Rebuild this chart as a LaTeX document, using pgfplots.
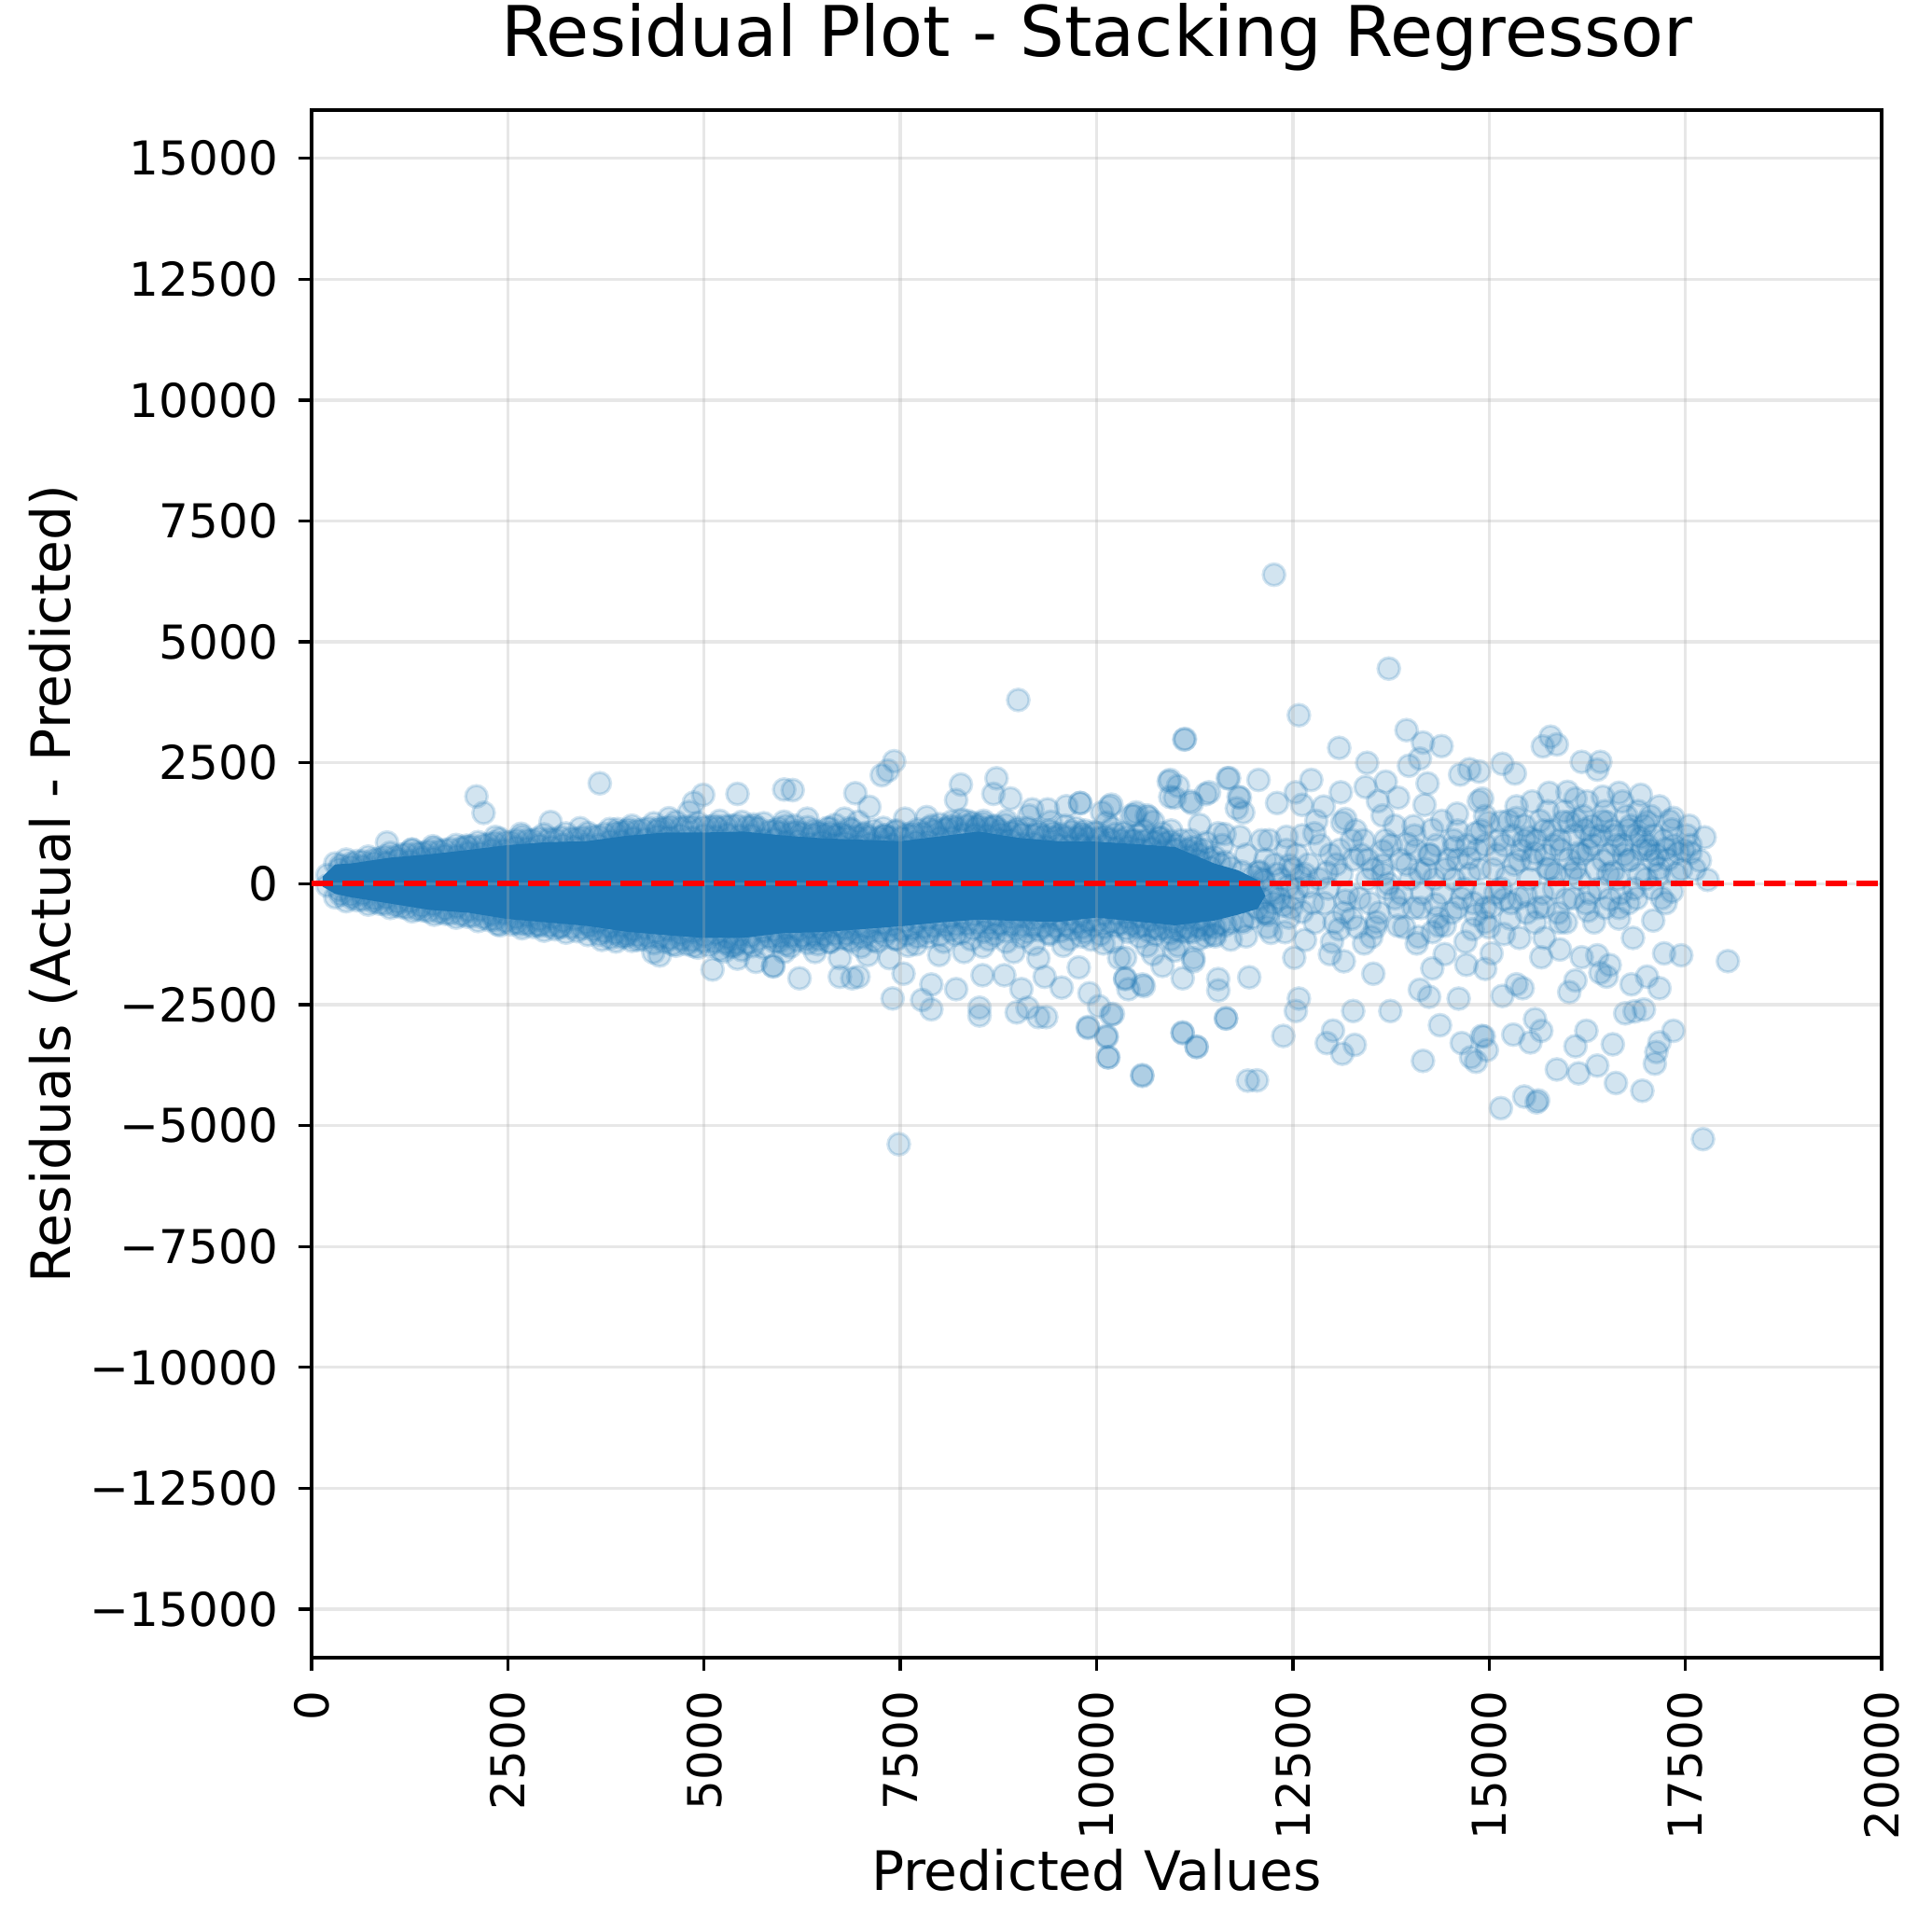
\documentclass[border=0pt]{standalone}
\usepackage{fontspec}
\setmainfont{DejaVu Sans}
\usepackage{pgfplots}
\pgfplotsset{compat=1.18}
\usetikzlibrary{calc}
\definecolor{tabblue}{HTML}{1F77B4}
\definecolor{gridc}{RGB}{176,176,176}
\pgfplotsset{pts/.style={only marks, mark=*, mark size=2.8pt,
  mark options={draw=tabblue, fill=tabblue, fill opacity=0.2, draw opacity=0.2, line width=0.8pt}}}
\begin{document}
\begin{tikzpicture}
\begin{axis}[
  set layers, axis on top,
  scale only axis, width=403.9pt, height=398.2pt,
  xmin=0, xmax=20000, ymin=-16000, ymax=16000,
  scaled ticks=false,
  xtick={0,2500,5000,7500,10000,12500,15000,17500,20000},
  ytick={-15000,-12500,-10000,-7500,-5000,-2500,0,2500,5000,7500,10000,12500,15000},
  xticklabels={0,2500,5000,7500,10000,12500,15000,17500,20000},
  yticklabels={−15000,−12500,−10000,−7500,−5000,−2500,0,2500,5000,7500,10000,12500,15000},
  tick pos=left, tick align=outside, major tick length=3.5pt,
  every tick/.style={black, line width=0.8pt},
  axis line style={line width=0.8pt},
  grid=major, grid style={gridc, line width=0.8pt, draw opacity=0.3},
  tick label style={font=\fontsize{12}{14}\selectfont},
  xticklabel style={rotate=90, anchor=east, inner sep=0pt},
  yticklabel style={anchor=east, inner sep=0pt},
  xticklabel shift=5pt, yticklabel shift=5pt,
  title={Residual Plot - Stacking Regressor},
  title style={font=\fontsize{18}{21}\selectfont, at={(axis description cs:0.5,1)}, anchor=base, yshift=7.7pt},
  xlabel={Predicted Values},
  xlabel style={font=\fontsize{14}{16}\selectfont, at={(axis description cs:0.5,0)}, anchor=base, yshift=-60pt},
  ylabel={Residuals (Actual - Predicted)},
  ylabel style={font=\fontsize{14}{16}\selectfont, at={(axis description cs:-0.1535,0.5)}, anchor=base},
]
% dense core where the markers overlap to full colour
\addplot[draw=none, fill=tabblue, forget plot] coordinates {
(140,150) (300,400) (500,420) (1000,540) (1500,610) (2000,700) (2500,800) (3000,860) (3500,880)
(4000,990) (4500,1060) (5000,1060) (5500,1080) (6000,1000) (6500,940) (7500,880) (8000,980)
(8500,1080) (9000,950) (9500,880) (10000,870) (10500,820) (11000,760) (11500,420) (11800,280) (12050,80) (12150,-250)
(12050,-520) (11800,-640) (11500,-760) (11000,-860) (10500,-780) (10000,-700) (9500,-790) (9000,-770) (8500,-740)
(8000,-800) (7500,-880) (6500,-1000) (6000,-1020) (5500,-1120) (5000,-1120) (4500,-1060) (4000,-990)
(3500,-870) (3000,-800) (2500,-730) (2000,-600) (1500,-540) (1000,-410) (500,-280) (300,-210) (140,-60)};
% fringe of the core, upper
\addplot[pts] table {
x y
200 180
350 300
500 350
650 360
800 430
950 430
1100 490
1250 470
1400 530
1550 520
1700 580
1850 570
2000 640
2150 630
2300 700
2450 690
2600 750
2750 730
2900 790
3050 760
3200 800
3350 760
3500 800
3650 800
3800 880
3950 880
4100 940
4250 920
4400 980
4550 960
4700 1000
4850 950
5000 1000
5150 970
5300 1020
5450 990
5600 1000
5750 910
5900 920
6050 860
6200 890
6350 830
6500 860
6650 810
6800 840
6950 790
7100 820
7250 770
7400 800
7550 770
7700 860
7850 870
8000 950
8150 950
8300 1020
8450 1010
8600 1000
8750 910
8900 900
9050 820
9200 830
9350 770
9500 800
9650 760
9800 800
9950 760
10100 790
10250 730
10400 760
10550 710
10700 730
10850 670
11000 700
11150 560
11300 480
11450 340
};
% intermediate fringe layer, upper
\addplot[pts] table {
x y
370 380
510 420
650 460
790 500
930 560
1070 560
1210 620
1350 630
1490 670
1630 680
1770 720
1910 740
2050 780
2190 800
2330 850
2470 860
2610 900
2750 900
2890 940
3030 930
3170 960
3310 940
3450 960
3590 980
3730 1030
3870 1050
4010 1090
4150 1100
4290 1150
4430 1150
4570 1180
4710 1160
4850 1180
4990 1170
5130 1200
5270 1190
5410 1210
5550 1180
5690 1150
5830 1080
5970 1060
6110 1050
6250 1040
6390 1020
6530 1010
6670 990
6810 990
6950 970
7090 970
7230 950
7370 960
7510 950
7650 1000
7790 1040
7930 1100
8070 1120
8210 1160
8350 1200
8490 1200
8630 1160
8770 1100
8910 1060
9050 1020
9190 1000
9330 980
9470 960
9610 960
9750 950
9890 950
10030 940
10170 920
10310 900
10450 900
10590 880
10730 860
10870 840
11010 800
11150 700
11290 620
11430 520
11570 420
11710 330
11850 250
11990 150
12130 50
};
% second fringe layer, upper
\addplot[pts] table {
x y
300 420
440 500
580 470
720 560
860 520
1000 640
1140 600
1280 700
1420 640
1560 740
1700 700
1840 800
1980 760
2120 860
2260 820
2400 930
2540 860
2680 980
2820 900
2960 1020
3100 920
3240 1040
3380 930
3520 1050
3660 980
3800 1130
3940 1060
4080 1200
4220 1120
4360 1250
4500 1150
4640 1280
4780 1180
4920 1260
5060 1180
5200 1300
5340 1200
5480 1280
5620 1180
5760 1250
5900 1100
6040 1200
6180 1080
6320 1170
6460 1060
6600 1150
6740 1040
6880 1120
7020 1020
7160 1100
7300 1000
7440 1080
7580 1020
7720 1120
7860 1150
8000 1230
8140 1200
8280 1320
8420 1260
8560 1300
8700 1180
8840 1220
8980 1100
9120 1150
9260 1040
9400 1100
9540 1020
9680 1080
9820 1000
9960 1060
10100 980
10240 1030
10380 960
10520 1000
10660 920
10800 960
10940 880
11080 900
11220 760
11360 700
11500 560
11640 450
};
% fringe of the core, lower
\addplot[pts] table {
x y
200 -40
350 -130
500 -230
650 -210
800 -310
950 -290
1100 -380
1250 -370
1400 -460
1550 -430
1700 -520
1850 -480
2000 -550
2150 -540
2300 -630
2450 -610
2600 -700
2750 -660
2900 -740
3050 -700
3200 -770
3350 -730
3500 -810
3650 -790
3800 -890
3950 -870
4100 -950
4250 -920
4400 -990
4550 -950
4700 -1030
4850 -990
5000 -1070
5150 -1030
5300 -1110
5450 -1070
5600 -1080
5750 -980
5900 -960
6050 -930
6200 -960
6350 -900
6500 -930
6650 -870
6800 -920
6950 -850
7100 -890
7250 -820
7400 -850
7550 -770
7700 -800
7850 -720
8000 -740
8150 -680
8300 -700
8450 -640
8600 -680
8750 -650
8900 -700
9050 -660
9200 -720
9350 -680
9500 -740
9650 -640
9800 -640
9950 -560
10100 -620
10250 -620
10400 -700
10550 -660
10700 -750
10850 -710
11000 -800
11150 -720
11300 -730
11450 -640
};
% intermediate fringe layer, lower
\addplot[pts] table {
x y
370 -220
510 -290
650 -330
790 -370
930 -420
1070 -450
1210 -500
1350 -530
1490 -570
1630 -590
1770 -620
1910 -640
2050 -670
2190 -700
2330 -740
2470 -780
2610 -810
2750 -830
2890 -850
3030 -870
3170 -880
3310 -900
3450 -920
3590 -950
3730 -990
3870 -1020
4010 -1050
4150 -1070
4290 -1090
4430 -1110
4570 -1130
4710 -1150
4850 -1170
4990 -1190
5130 -1200
5270 -1220
5410 -1230
5550 -1220
5690 -1150
5830 -1100
5970 -1090
6110 -1080
6250 -1080
6390 -1060
6530 -1060
6670 -1040
6810 -1040
6950 -1020
7090 -1010
7230 -990
7370 -970
7510 -950
7650 -930
7790 -900
7930 -880
8070 -860
8210 -840
8350 -830
8490 -820
8630 -820
8770 -830
8910 -850
9050 -860
9190 -870
9330 -880
9470 -880
9610 -850
9750 -800
9890 -770
10030 -760
10170 -790
10310 -820
10450 -840
10590 -860
10730 -900
10870 -920
11010 -940
11150 -900
11290 -880
11430 -860
11570 -830
11710 -800
11850 -760
11990 -700
12130 -600
};
% second fringe layer, lower
\addplot[pts] table {
x y
300 -280
440 -360
580 -340
720 -430
860 -410
1000 -500
1140 -480
1280 -570
1420 -550
1560 -640
1700 -620
1840 -700
1980 -680
2120 -770
2260 -750
2400 -860
2540 -840
2680 -920
2820 -890
2960 -970
3100 -940
3240 -1010
3380 -980
3520 -1060
3660 -1050
3800 -1120
3940 -1100
4080 -1180
4220 -1150
4360 -1230
4500 -1200
4640 -1280
4780 -1250
4920 -1320
5060 -1280
5200 -1360
5340 -1300
5480 -1370
5620 -1290
5760 -1320
5900 -1200
6040 -1260
6180 -1170
6320 -1230
6460 -1150
6600 -1210
6740 -1130
6880 -1190
7020 -1110
7160 -1170
7300 -1080
7440 -1140
7580 -1050
7720 -1100
7860 -1000
8000 -1060
8140 -960
8280 -1020
8420 -930
8560 -990
8700 -920
8840 -980
8980 -940
9120 -1000
9260 -960
9400 -1020
9540 -980
9680 -940
9820 -900
9960 -860
10100 -900
10240 -870
10380 -930
10520 -900
10660 -980
10800 -950
10940 -1020
11080 -980
11220 -1000
11360 -940
11500 -900
11640 -860
};
% points outside the core, 0 - 12000
\addplot[pts] table {
x y
960 852
1278 710
1544 774
1972 787
2099 1806
2190 1465
2341 968
2667 1032
3044 1277
3421 1148
3670 2077
3897 1129
4040 1129
4400 1100
4552 1355
4810 1484
4869 1677
4988 1839
5165 1161
5425 1858
5630 1226
6020 1948
6128 1936
6314 1346
6670 1218
6789 1346
6927 1872
7105 1590
7263 2244
7342 2340
7421 2532
8211 1731
8271 2051
8686 1859
8725 2180
8903 1763
9002 3800
9180 1538
9376 1538
9615 1603
9792 1667
10069 1474
10188 1635
10504 1474
10662 1378
10919 2115
10939 1795
11037 2019
11117 2981
11215 1667
11433 1891
11670 2180
11809 1795
11868 1474
7559 1346
7836 1378
8152 1282
8468 1154
8785 1026
9140 1410
9417 1282
9733 1154
10445 1410
10721 1282
11314 1218
11630 1026
6018 1282
6571 1154
6966 1282
7283 1154
5950 1150
6150 1200
6400 1100
6600 1050
6850 1150
7050 1050
7300 1000
7450 1100
7650 1050
7900 1200
8100 1150
8350 1300
8550 1250
8700 1200
8850 1300
9000 1150
9250 1100
9450 1050
9600 1200
9850 1100
10000 1050
10200 1150
10350 1050
10600 1100
10800 950
10950 1100
11200 900
11400 850
11600 800
2369 -839
2667 -839
2905 -871
3163 -903
3540 -871
3698 -1161
3877 -1194
4000 -1100
4155 -1161
4353 -1419
4433 -1484
4600 -1250
4869 -1290
5107 -1774
5250 -1400
5386 -1290
5425 -1548
5659 -1613
5881 -1710
5879 -1699
6215 -1955
6729 -1923
6887 -1955
6966 -1923
7401 -2372
7540 -1859
7777 -2404
7895 -2596
7895 -2083
8211 -2179
8508 -2564
8508 -2724
8547 -1891
8824 -1891
9042 -2179
8982 -2660
9120 -2564
9259 -2756
9358 -2756
9338 -1923
9555 -2147
9773 -1731
9891 -2981
10030 -2532
10128 -3173
10148 -3590
10208 -2692
10366 -1955
10405 -2179
10583 -3974
10583 -2083
11097 -3090
11275 -3378
11650 -2788
11551 -2205
11097 -1955
10840 -1699
11235 -1538
11927 -4071
7480 -5385
6018 -1410
6413 -1410
6729 -1538
7085 -1474
7362 -1538
7599 -1282
7994 -1474
8310 -1410
8626 -1154
8943 -1410
9259 -1538
9575 -1282
9931 -1154
10287 -1538
10642 -1282
11037 -1282
11393 -1090
11709 -1154
5950 -1200
6100 -1300
6300 -1150
6450 -1250
6600 -1200
6850 -1150
7000 -1300
7200 -1200
7450 -1150
7700 -1250
7850 -1100
8050 -1200
8200 -1050
8400 -1150
8550 -1300
8700 -1050
8850 -1200
9050 -1100
9200 -1250
9400 -1050
9650 -1150
9850 -1000
10050 -1050
10200 -1200
10400 -1000
10550 -1100
10750 -1050
10950 -1150
11150 -1000
11300 -1150
11500 -1050
};
% points 9800 - 15000
\addplot[pts] table {
x y
12261 6390
13723 4449
12577 3485
11126 2993
13091 2809
13447 2500
13949 3176
14158 2919
14395 2846
13980 2441
14119 2588
10937 2147
10996 1779
11688 2184
12063 2147
11391 1853
11826 1779
11787 1559
12538 1890
12735 2147
13111 1890
12893 1596
13170 1338
13427 2000
13684 2110
13842 1779
14178 1632
14217 2074
14632 2257
14751 2368
14593 1449
14870 1706
9790 1670
10166 1596
10482 1412
10640 1412
11194 1706
12300 1669
12617 1632
13585 1706
13644 1412
14040 1191
14277 1118
9810 1044
10126 1265
10482 897
10838 1044
11273 750
11549 1044
11826 971
12103 897
12419 971
12775 1044
13130 1265
13368 603
13644 676
13960 824
14237 603
14553 750
14830 1044
14988 1265
11194 382
11470 15
11747 -206
12063 235
12261 -206
12458 382
12696 -59
12933 235
13170 -353
13447 88
13644 382
13881 -206
14119 235
14316 -426
14553 88
14751 529
14909 -206
11905 603
12182 -647
12617 -581
13249 -721
13565 -794
14040 -500
14435 -868
14830 -647
11589 -500
11866 -794
12000 -100
12080 250
12160 -600
12230 -150
12300 200
12380 -450
12440 -50
12520 -300
12600 150
12150 500
12250 -400
12350 100
12450 -700
12550 600
12650 200
12750 -400
12850 800
12950 -100
13050 400
13150 -600
13250 900
13350 -300
13450 500
13550 -900
13650 200
13750 800
13850 -500
13950 400
14050 1000
14150 -200
14250 600
14350 -700
14450 300
14550 900
14650 -300
14750 200
14850 700
14950 -500
12200 900
12400 -1000
12800 1300
13000 -1200
13300 1100
13500 -1100
13800 1200
14100 -1100
14400 1300
14700 -1200
14900 1100
12100 -300
12500 300
13100 700
13700 -100
14300 100
14600 500
12050 -500
12120 100
12180 -900
12270 400
12330 -300
12420 700
12480 -500
12560 -100
12620 1000
12700 400
12780 -800
12830 100
12900 -400
12980 600
13030 -800
13120 200
13200 -200
13270 500
13320 -900
13400 900
13480 -400
13520 300
13600 -600
13680 900
13720 0
13800 -300
13870 500
13920 -900
14000 100
14070 700
14130 -500
14200 300
14280 -1000
14330 800
14400 -200
14480 500
14520 -600
14600 1100
14680 -100
14720 800
14800 -400
14880 300
9810 -1088
10087 -1235
10364 -1529
10719 -1456
10996 -1382
11233 -1603
11510 -1088
11905 -1088
12221 -1015
12656 -1162
13091 -941
13407 -1235
13842 -868
14079 -1235
14356 -868
14593 -500
14791 -941
9909 -2265
9889 -2963
10126 -3147
10146 -3588
10186 -2706
10364 -1971
10601 -2118
10581 -3956
11095 -3074
11273 -3368
11549 -1971
11648 -2779
11945 -1934
12043 -4066
12379 -3147
12518 -1529
12538 -2632
12577 -2375
12933 -3294
12973 -1456
13012 -3037
13130 -3515
13150 -1603
13269 -2632
13289 -3331
13526 -1860
13743 -2632
14119 -2191
14158 -3662
14237 -2338
14277 -1750
14375 -2926
14435 -1456
14613 -2375
14652 -3294
14711 -1676
14771 -3588
14909 -3147
};
% points 14800 - 18100
\addplot[pts] table {
x y
15784 3040
15685 2840
15864 2880
15170 2480
15329 2280
16379 2360
16418 2520
16181 2520
15765 1880
16101 1760
16656 1880
16933 1840
17171 1600
17349 1360
17746 960
17686 480
17785 80
17567 640
17330 1120
17013 1280
14873 2320
14913 1760
15151 1280
15349 1360
15507 960
15943 1280
16220 1120
16498 1280
16775 1120
17013 800
17250 720
14952 800
15190 800
15388 480
15586 640
15824 800
16022 1280
16141 640
16300 960
16458 480
16616 800
16775 480
16933 960
17092 480
17409 640
17567 800
15745 320
16101 320
16577 240
17171 320
15050 300
15120 900
15230 150
15300 1000
15410 700
15450 1200
15520 100
15600 900
15650 1300
15720 600
15790 1100
15850 200
15900 900
15960 1500
16020 500
16080 1000
16150 100
16200 1400
16260 700
16310 1200
16360 300
16420 1000
16480 1500
16530 600
16580 1100
16640 100
16700 800
16750 1400
16810 500
16870 1000
16920 200
16980 1200
17040 700
17100 1000
17160 200
17220 900
17280 500
17360 800
17450 300
17520 1000
15350 1600
15550 1700
15750 1500
16000 1900
16250 1700
16450 1800
16700 1700
16900 1500
14950 1400
15000 -900
15100 600
15150 -100
15250 1300
15320 400
15380 -300
15450 900
15550 500
15620 -500
15700 1100
15770 300
15830 -100
15920 700
15980 -800
16050 200
16120 1300
16180 600
16230 -400
16330 800
16400 -100
16440 1300
16520 200
16600 1000
16660 -500
16720 600
16800 1200
16850 -100
16950 700
17000 100
17060 1400
17130 600
17200 -300
17300 1300
17380 200
17480 700
17550 1200
17620 300
18043 -1600
17231 -1440
17449 -1480
16775 -400
17250 -400
17330 -160
17092 -760
16834 -1120
16537 -1680
16379 -1480
16181 -1520
15903 -1360
15666 -1520
15705 -1120
15388 -1120
15190 -1040
14952 -800
14952 -1760
15032 -1440
15349 -2080
15170 -2320
15428 -2160
16101 -2000
16022 -2240
16815 -2080
17013 -1920
17171 -2160
16418 -1840
16498 -1920
16854 -2640
16973 -2600
16735 -2680
17349 -3040
17171 -3280
17132 -3480
17112 -3720
16577 -3320
16240 -3040
16101 -3360
15586 -2800
15666 -3040
15527 -3280
15309 -3120
14933 -3160
14972 -3440
14834 -3680
15864 -3840
16379 -3760
16141 -3920
16616 -4120
16953 -4280
15151 -4640
15448 -4400
15606 -4520
15626 -4480
17726 -5280
15190 -320
15468 -240
15705 -480
15983 -320
16260 -560
16537 -320
15586 -800
15903 -800
16339 -800
16656 -720
15032 -480
15269 -720
15080 -200
15280 -400
15480 -600
15680 -200
15880 -600
16080 -300
16280 -200
16480 -500
16680 -200
16880 -300
17080 -100
};
\addplot[red, line width=1.5pt, dash pattern=on 5.55pt off 2.4pt, on layer=axis foreground] coordinates {(0,0) (20000,0)};
\end{axis}
\pgfresetboundingbox
\path[use as bounding box] ($(current axis.south west)+(-80.2pt,-70.3pt)$) rectangle ($(current axis.north east)+(13pt,28.3pt)$);
\end{tikzpicture}
\end{document}
